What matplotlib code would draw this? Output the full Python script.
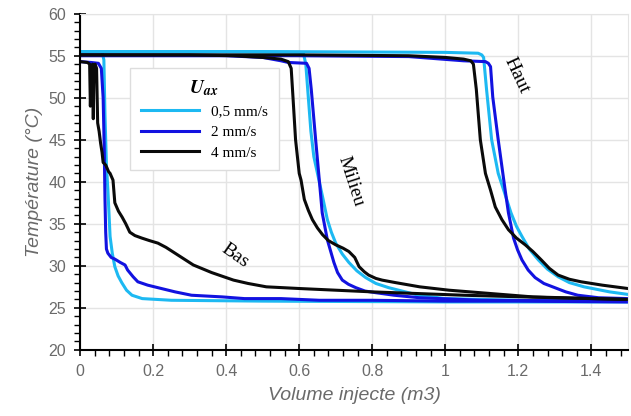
import numpy as np
import matplotlib
matplotlib.use("Agg")
import matplotlib.pyplot as plt
from matplotlib.ticker import MultipleLocator

# Bas (bottom sensor)
bas_05_x = [0, 0.06, 0.065, 0.068, 0.072, 0.076, 0.082, 0.088, 0.095, 0.104, 0.114, 0.127, 0.142, 0.17, 0.25, 0.5, 1.0, 1.5]
bas_05_t = [55.5, 55.5, 54.5, 48, 42, 39, 33.5, 31.5, 29.9, 28.8, 28, 27.1, 26.5, 26.1, 25.9, 25.8, 25.7, 25.7]

bas_2_x = [0, 0.03, 0.05, 0.058, 0.063, 0.066, 0.068, 0.07, 0.072, 0.076, 0.085, 0.095, 0.11, 0.123, 0.13, 0.145,
           0.158, 0.185, 0.213, 0.26, 0.305, 0.39, 0.45, 0.55, 0.655, 0.8, 1.0, 1.2, 1.5]
bas_2_t = [54.3, 54.2, 54.1, 53.5, 50, 44, 38, 34, 32, 31.5, 31, 30.8, 30.4, 30.1, 29.5, 28.7,
           28.1, 27.7, 27.4, 26.9, 26.5, 26.3, 26.1, 26.1, 25.9, 25.9, 25.8, 25.8, 25.7]

bas_4_x = [0, 0.02, 0.026, 0.028, 0.031, 0.034, 0.036, 0.038, 0.041, 0.045, 0.048, 0.052, 0.056, 0.06, 0.063,
           0.07, 0.078, 0.082, 0.09, 0.095, 0.105, 0.115, 0.125, 0.136, 0.15, 0.169, 0.19, 0.213, 0.235, 0.26,
           0.285, 0.31, 0.36, 0.42, 0.46, 0.51, 0.6, 0.8, 1.05, 1.3, 1.5]
bas_4_t = [54.3, 54.2, 54.0, 49, 53.5, 54.0, 47.5, 53.8, 54.0, 53.5, 47, 46, 44.6, 43.5, 42.3,
           42, 41.2, 41, 40.2, 37.5, 36.5, 35.8, 35, 34, 33.6, 33.3, 33.0, 32.7, 32.2, 31.5,
           30.8, 30.1, 29.2, 28.3, 27.9, 27.5, 27.3, 26.9, 26.5, 26.2, 26.0]

# Milieu (middle sensor)
mil_05_x = [0, 0.3, 0.6, 0.612, 0.618, 0.625, 0.632, 0.64, 0.655, 0.665, 0.677, 0.688, 0.70, 0.718, 0.736,
            0.758, 0.782, 0.81, 0.845, 0.927, 1.0, 1.2, 1.5]
mil_05_t = [55.5, 55.5, 55.4, 55.2, 54, 50, 46, 43, 40, 38, 35.5, 34.0, 32.7, 31.4, 30.4,
            29.4, 28.6, 27.9, 27.4, 26.5, 26.1, 25.9, 25.8]

mil_2_x = [0, 0.4, 0.5, 0.55, 0.57, 0.62, 0.627, 0.633, 0.645, 0.655, 0.663, 0.677, 0.695, 0.705, 0.718,
           0.735, 0.755, 0.78, 0.81, 0.86, 0.93, 1.1, 1.5]
mil_2_t = [55.0, 55.0, 54.8, 54.4, 54.2, 54.1, 53.5, 51, 45, 40.2, 36.3, 33.1, 30.4, 29.2, 28.3,
           27.8, 27.4, 27.0, 26.8, 26.5, 26.2, 25.9, 25.8]

mil_4_x = [0, 0.3, 0.42, 0.5, 0.55, 0.57, 0.578, 0.583, 0.59, 0.6, 0.605, 0.614, 0.625, 0.636, 0.65, 0.664,
           0.68, 0.70, 0.72, 0.736, 0.752, 0.764, 0.778, 0.79, 0.81, 0.827, 0.864, 0.93, 1.01, 1.24, 1.49]
mil_4_t = [55.1, 55.1, 55.0, 54.8, 54.6, 54.3, 53.5, 50, 45, 41, 40.2, 37.9, 36.6, 35.5, 34.5, 33.7,
           33.0, 32.5, 32.1, 31.7, 31.0, 29.9, 29.3, 28.9, 28.5, 28.3, 28.0, 27.5, 27.1, 26.3, 26.0]

# Haut (top sensor)
haut_05_x = [0, 0.5, 1.0, 1.09, 1.1, 1.105, 1.113, 1.127, 1.145, 1.16, 1.18, 1.195, 1.21, 1.23, 1.255, 1.28,
             1.309, 1.34, 1.38, 1.45, 1.5]
haut_05_t = [55.5, 55.5, 55.4, 55.3, 55.1, 54.8, 51, 45, 41, 39, 36.3, 34.7, 33.5, 32.0, 30.7, 29.6,
             28.7, 28.0, 27.5, 26.9, 26.6]

haut_2_x = [0, 0.6, 0.9, 1.05, 1.11, 1.118, 1.124, 1.13, 1.145, 1.164, 1.173, 1.187, 1.198, 1.21, 1.227,
            1.246, 1.27, 1.30, 1.33, 1.363, 1.42, 1.5]
haut_2_t = [55.1, 55.0, 54.9, 54.4, 54.3, 54.1, 53.7, 50.1, 45, 39, 36.3, 33.3, 31.9, 30.7, 29.5,
            28.6, 27.9, 27.4, 26.9, 26.5, 26.2, 26.1]

haut_4_x = [0, 0.6, 0.9, 1.0, 1.05, 1.07, 1.077, 1.085, 1.096, 1.11, 1.124, 1.137, 1.155, 1.173, 1.195, 1.219,
            1.24, 1.263, 1.285, 1.309, 1.34, 1.372, 1.43, 1.5]
haut_4_t = [55.1, 55.1, 55.0, 54.8, 54.6, 54.4, 54.0, 51, 45, 41, 39, 37, 35.5, 34.3, 33.3, 32.5,
            31.7, 30.7, 29.7, 28.9, 28.4, 28.1, 27.7, 27.3]

labels = ['0,5 mm/s', '2 mm/s', '4 mm/s']
colors = ['#1db9f2', '#1212e0', '#0a0a0a']

plt.rcParams['mathtext.fontset'] = 'stix'

fig = plt.figure(figsize=(6.31, 4.16), dpi=100)
ax = fig.add_axes([0.127, 0.159, 0.868, 0.808])

series = [
    [(bas_05_x, bas_05_t), (mil_05_x, mil_05_t), (haut_05_x, haut_05_t)],
    [(bas_2_x, bas_2_t), (mil_2_x, mil_2_t), (haut_2_x, haut_2_t)],
    [(bas_4_x, bas_4_t), (mil_4_x, mil_4_t), (haut_4_x, haut_4_t)],
]
for lab, col, curves in zip(labels, colors, series):
    for i, (x, t) in enumerate(curves):
        ax.plot(x, t, color=col, lw=2.2, label=lab if i == 0 else None,
                solid_joinstyle='round')

ax.set_xlim(0, 1.5)
ax.set_ylim(20, 60)
ax.xaxis.set_major_locator(MultipleLocator(0.2))
ax.xaxis.set_minor_locator(MultipleLocator(0.04))
ax.yaxis.set_major_locator(MultipleLocator(5))
ax.yaxis.set_minor_locator(MultipleLocator(1))
ax.set_xticklabels(['0' if v == 0 else ('%g' % v) for v in ax.get_xticks()])
ax.grid(True, which='major', color='#e4e4e4', lw=1.0)
ax.set_axisbelow(True)
ax.tick_params(which='major', direction='inout', length=8, width=1.2, color='black',
               labelsize=11.5, labelcolor='#6a6a6a', pad=6)
ax.tick_params(which='minor', direction='out', length=4, width=1.0, color='black')
for side in ['top', 'right']:
    ax.spines[side].set_color('#e4e4e4')
for side in ['left', 'bottom']:
    ax.spines[side].set_linewidth(1.5)
for lbl in ax.get_xticklabels() + ax.get_yticklabels():
    lbl.set_fontfamily('Liberation Sans')

ax.set_xlabel('Volume injecte (m3)', fontsize=14, style='italic', color='#6a6a6a',
              family='Liberation Sans', labelpad=6)
ax.set_ylabel('Température (°C)', fontsize=14, style='italic', color='#6a6a6a',
              family='Liberation Sans', labelpad=4)

leg = ax.legend(loc='upper left', bbox_to_anchor=(0.091, 0.84), title=r'$\mathbfit{U}_{\mathbfit{ax}}$',
                prop={'family': 'Liberation Serif', 'size': 11}, title_fontsize=14,
                fancybox=False, edgecolor='#dddddd', framealpha=1, handlelength=3.8,
                borderpad=0.7, labelspacing=0.45, borderaxespad=0)
leg.get_frame().set_linewidth(1.0)

ax.text(0.423, 31.2, 'Bas', rotation=-35, fontsize=14, family='Liberation Serif',
        ha='center', va='center')
ax.text(0.742, 40.0, 'Milieu', rotation=-72, fontsize=14, family='Liberation Serif',
        ha='center', va='center')
ax.text(1.195, 52.7, 'Haut', rotation=-65, fontsize=14, family='Liberation Serif',
        ha='center', va='center')

fig.savefig('out.png', dpi=100)
